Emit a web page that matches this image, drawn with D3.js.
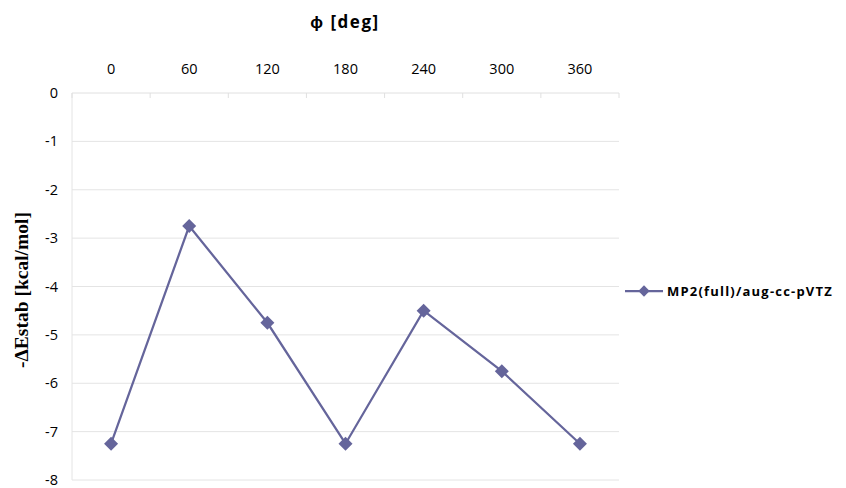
<!DOCTYPE html>
<html>
<head>
<meta charset="utf-8">
<script src="https://cdn.jsdelivr.net/npm/d3@7"></script>
<style>
  body { margin: 0; background: #fff; }
  text { fill: #000; }
</style>
</head>
<body>
<div id="chart"></div>
<script>
const phi = ["0", "60", "120", "180", "240", "300", "360"];
const energy = [-7.25, -2.75, -4.75, -7.25, -4.5, -5.75, -7.25];
const yTicks = [0, -1, -2, -3, -4, -5, -6, -7, -8];
const seriesName = "MP2(full)/aug-cc-pVTZ";

const W = 846, H = 488;
const margin = {t: 93, r: 227, b: 8, l: 72};
const col = "#65659b";

const svg = d3.select("#chart").append("svg")
  .attr("width", W)
  .attr("height", H);

const x = d3.scaleBand()
  .domain(phi)
  .range([margin.l, W - margin.r]);

const y = d3.scaleLinear()
  .domain([0, -8])
  .range([margin.t, H - margin.b]);

// gridlines
svg.selectAll(".grid")
  .data(yTicks.slice(1))
  .enter()
  .append("line")
  .attr("class", "grid")
  .attr("x1", margin.l)
  .attr("x2", W - margin.r)
  .attr("y1", d => y(d))
  .attr("y2", d => y(d))
  .attr("stroke", "#e4e4e4")
  .attr("stroke-width", 1);

// left axis line
svg.append("line")
  .attr("x1", margin.l).attr("x2", margin.l)
  .attr("y1", y(0)).attr("y2", y(-8))
  .attr("stroke", "#e4e4e4");

// top axis (category)
svg.append("line")
  .attr("x1", margin.l).attr("x2", W - margin.r)
  .attr("y1", y(0)).attr("y2", y(0))
  .attr("stroke", "#e0e0e0");

const bounds = phi.map(d => x(d)).concat([x(phi[phi.length - 1]) + x.bandwidth()]);
svg.selectAll(".tk")
  .data(bounds)
  .enter()
  .append("line")
  .attr("x1", d => d).attr("x2", d => d)
  .attr("y1", y(0)).attr("y2", y(0) + 5)
  .attr("stroke", "#e0e0e0");

svg.selectAll(".xlab")
  .data(phi)
  .enter()
  .append("text")
  .attr("x", d => x(d) + x.bandwidth() / 2)
  .attr("y", 74)
  .attr("text-anchor", "middle")
  .style("font-family", "Open Sans, sans-serif")
  .style("font-size", "14.5px")
  .text(d => d);

svg.selectAll(".ylab")
  .data(yTicks)
  .enter()
  .append("text")
  .attr("x", 58)
  .attr("y", d => y(d) + 5)
  .attr("text-anchor", "end")
  .style("font-family", "Open Sans, sans-serif")
  .style("font-size", "14.5px")
  .text(d => d);

// titles
svg.append("text")
  .attr("x", 345)
  .attr("y", 28)
  .attr("text-anchor", "middle")
  .style("font-family", "Open Sans, sans-serif")
  .style("font-size", "17px")
  .style("font-weight", "bold")
  .style("letter-spacing", "1.5px")
  .text("ϕ [deg]");

svg.append("text")
  .attr("transform", "translate(28,290) rotate(-90)")
  .attr("text-anchor", "middle")
  .style("font-family", "Liberation Serif, serif")
  .style("font-size", "19.5px")
  .style("font-weight", "bold")
  .text("-ΔEstab [kcal/mol]");

// series
const line = d3.line()
  .x((d, i) => x(phi[i]) + x.bandwidth() / 2)
  .y(d => y(d));

svg.append("path")
  .datum(energy)
  .attr("d", line)
  .attr("fill", "none")
  .attr("stroke", col)
  .attr("stroke-width", 2.25);

const diamond = d3.symbol().type(d3.symbolSquare).size(98);

svg.selectAll(".pt")
  .data(energy)
  .enter()
  .append("path")
  .attr("class", "pt")
  .attr("d", diamond)
  .attr("transform", (d, i) => `translate(${x(phi[i]) + x.bandwidth() / 2},${y(d)}) rotate(45)`)
  .attr("fill", col);

// legend
const lg = svg.append("g").attr("transform", "translate(625,291)");
lg.append("line")
  .attr("x1", 0).attr("x2", 38)
  .attr("stroke", col)
  .attr("stroke-width", 2.25);
lg.append("path")
  .attr("d", d3.symbol().type(d3.symbolSquare).size(64))
  .attr("transform", "translate(19,0) rotate(45)")
  .attr("fill", col);
lg.append("text")
  .attr("x", 42)
  .attr("y", 5)
  .style("font-family", "Open Sans, sans-serif")
  .style("font-size", "13px")
  .style("font-weight", "bold")
  .style("letter-spacing", "1.2px")
  .text(seriesName);
</script>
</body>
</html>
